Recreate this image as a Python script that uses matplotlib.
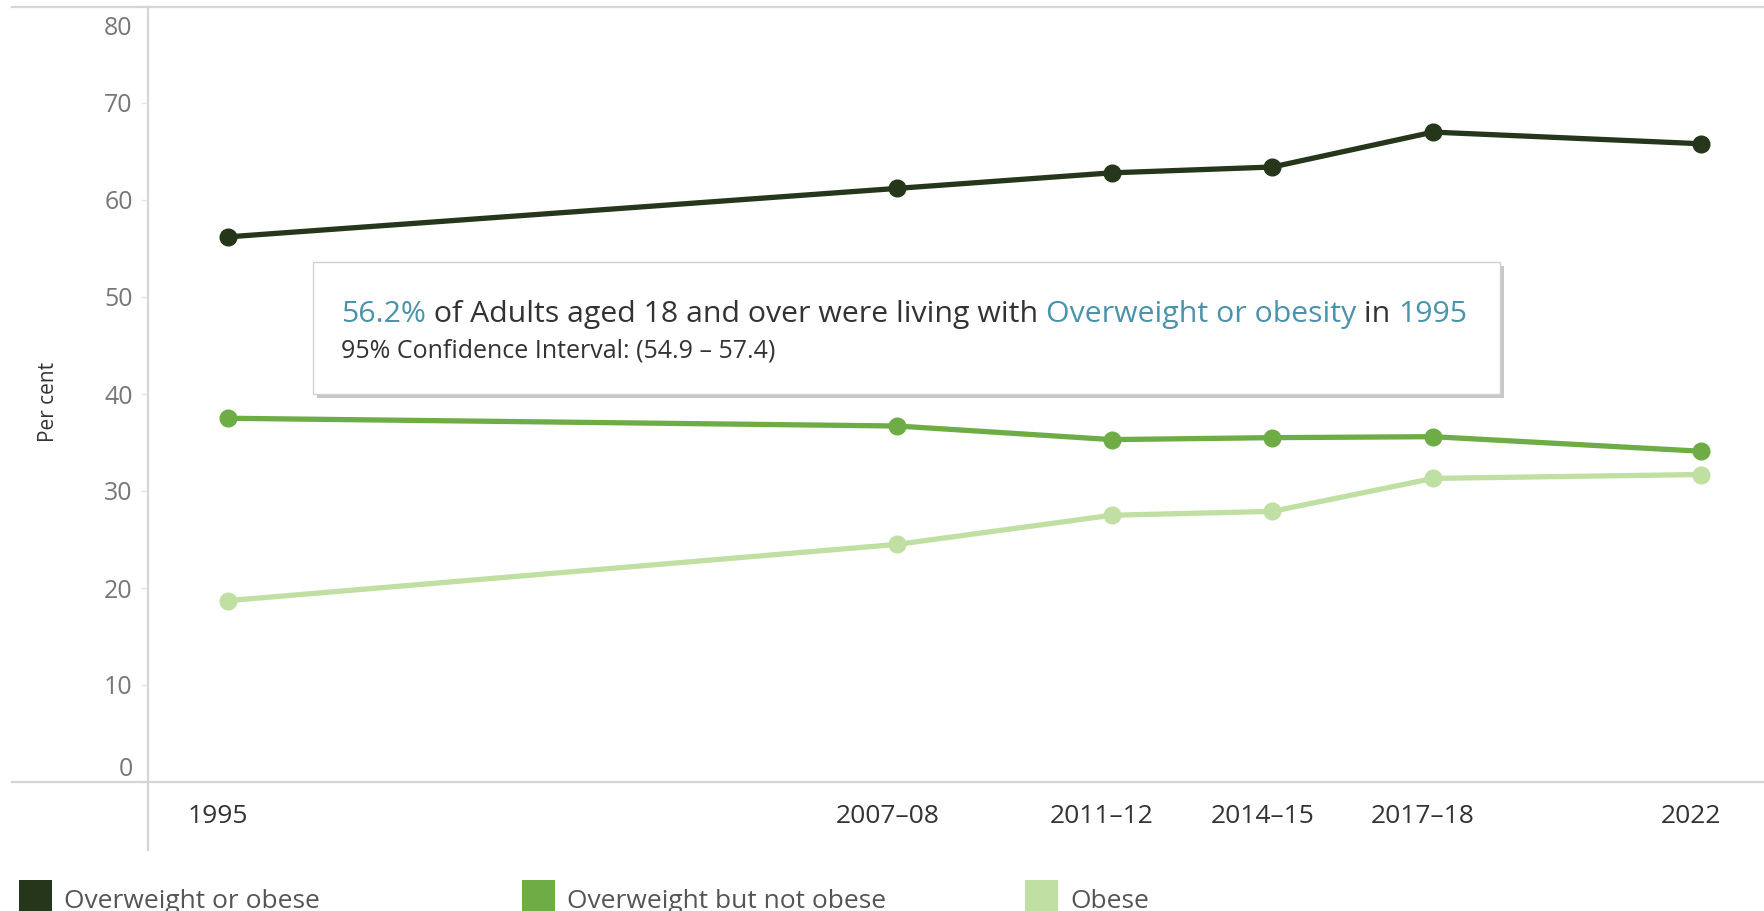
import matplotlib.pyplot as plt
import matplotlib.transforms as mtransforms
from matplotlib.lines import Line2D
from matplotlib.patches import Rectangle

plt.rcParams['font.family'] = ['Open Sans', 'DejaVu Sans']

# survey periods and where they sit on the time axis
periods = ['1995', '2007–08', '2011–12', '2014–15', '2017–18', '2022']
period_pos = [1995.0, 2007.5, 2011.5, 2014.5, 2017.5, 2022.5]

overweight_or_obese = [56.2, 61.2, 62.8, 63.4, 67.0, 65.8]
overweight_not_obese = [37.5, 36.7, 35.3, 35.5, 35.6, 34.1]
obese = [18.7, 24.5, 27.5, 27.9, 31.3, 31.7]

names = ['Overweight or obese', 'Overweight but not obese', 'Obese']
colors = ['#25361a', '#6ead45', '#c0e0a3']
yticks = [0, 10, 20, 30, 40, 50, 60, 70, 80]

W, H = 1764, 911


def fx(px):
    return px / W


def fy(py):
    return 1 - py / H


fig = plt.figure(figsize=(W / 100, H / 100), dpi=100)
ax = fig.add_axes([fx(148), fy(782), fx(W) - fx(148), fy(6) - fy(782)])

series = [overweight_or_obese, overweight_not_obese, obese]
for vals, c in zip(series[::-1], colors[::-1]):
    ax.plot(period_pos, vals, color=c, lw=3.8, marker='o', ms=12,
            solid_capstyle='round', solid_joinstyle='round', zorder=3)

ax.set_xlim(1993.506, 2023.68)
ax.set_ylim(0, 80)
for s in ax.spines.values():
    s.set_visible(False)

ax.set_yticks(yticks)
ax.tick_params(axis='y', length=5, width=1, color='#e4e4e4', pad=6,
               labelsize=18, labelcolor='#777777')
for lab in ax.get_yticklabels():
    if lab.get_text() == '80':
        lab.set_verticalalignment('top')
        lab.set_transform(lab.get_transform() +
                          mtransforms.ScaledTranslation(0, -0.1, fig.dpi_scale_trans))
    elif lab.get_text() == '0':
        lab.set_verticalalignment('bottom')

ax.set_xticks(period_pos)
ax.set_xticklabels(periods)
ax.tick_params(axis='x', length=0, pad=16, labelsize=19, labelcolor='#333333')
for lab in ax.get_xticklabels():
    lab.set_transform(lab.get_transform() +
                      mtransforms.ScaledTranslation(-0.1, 0, fig.dpi_scale_trans))

fig.text(fx(48), fy(402), 'Per cent', rotation=90, ha='center', va='center',
         fontsize=15, color='#333333')

# pane borders
fig.add_artist(Line2D([fx(12), 1], [fy(7), fy(7)], color='#d6d6d6', lw=1.6))
fig.add_artist(Line2D([fx(12), 1], [fy(782), fy(782)], color='#d6d6d6', lw=1.6))
fig.add_artist(Line2D([fx(148), fx(148)], [fy(7), fy(850)], color='#d6d6d6', lw=1.6))

# tooltip
ax.add_patch(Rectangle((fx(317), fy(398)), fx(1500) - fx(313), fy(262) - fy(394),
                       transform=fig.transFigure, clip_on=False, zorder=5,
                       facecolor='#c8c8c8', edgecolor='none'))
ax.add_patch(Rectangle((fx(313), fy(394)), fx(1500) - fx(313), fy(262) - fy(394),
                       transform=fig.transFigure, clip_on=False, zorder=6,
                       facecolor='white', edgecolor='#d0d0d0', lw=1))

teal = '#4b93aa'
pieces = [('56.2%', teal), (' of Adults aged 18 and over were living with ', '#333333'),
          ('Overweight or obesity', teal), (' in ', '#333333'), ('1995', teal)]
prev = ax.text(fx(341), fy(322), pieces[0][0], transform=fig.transFigure,
               fontsize=21.8, color=pieces[0][1], va='baseline', zorder=7)
for txt, c in pieces[1:]:
    prev = ax.annotate(txt, xy=(1, 0), xycoords=prev, va='bottom', ha='left',
                       fontsize=21.8, color=c, zorder=7, annotation_clip=False)
ax.text(fx(341), fy(357), '95% Confidence Interval: (54.9 – 57.4)',
        transform=fig.transFigure, fontsize=18, color='#333333', va='baseline', zorder=7)

# legend
for i, (name, c) in enumerate(zip(names, colors)):
    x0 = 19 + i * 503
    fig.add_artist(Rectangle((fx(x0), fy(911)), fx(33), 31 / H, transform=fig.transFigure,
                             facecolor=c, edgecolor='none'))
    fig.text(fx(x0 + 45), fy(901), name, ha='left', va='center', fontsize=19, color='#555555')

fig.savefig('out.png', dpi=100)
